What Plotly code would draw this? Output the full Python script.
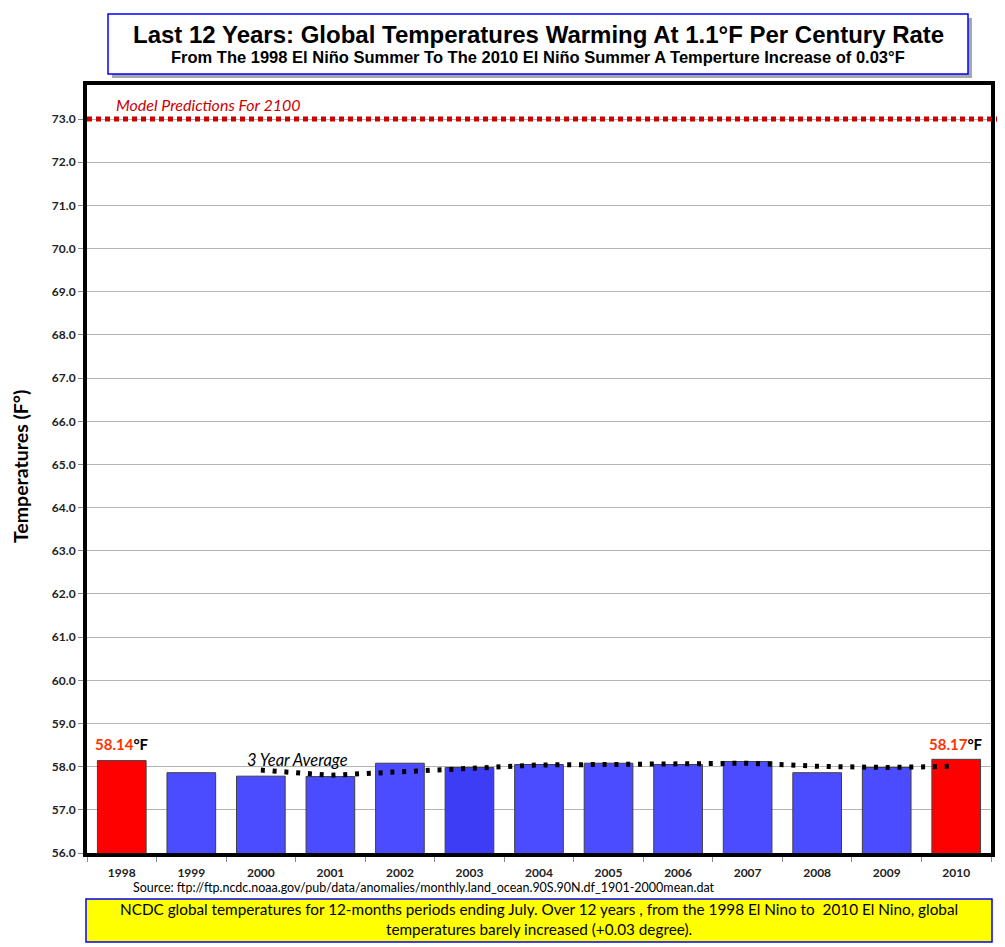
import plotly.graph_objects as go

# data
years = ["1998", "1999", "2000", "2001", "2002", "2003", "2004",
         "2005", "2006", "2007", "2008", "2009", "2010"]
temps = [58.14, 57.86, 57.78, 57.77, 58.08, 57.98, 58.05,
         58.08, 58.05, 58.12, 57.86, 57.98, 58.17]
avg_years = ["2000", "2001", "2002", "2003", "2004", "2005",
             "2006", "2007", "2008", "2009", "2010"]
avg_temps = [57.92, 57.80, 57.88, 57.95, 58.04, 58.05,
             58.06, 58.08, 58.01, 57.98, 58.01]
model_2100 = 73.0

bar_colors = ["#ff0000"] + ["#4b4bff"] * 4 + ["#3d3df5"] + ["#4b4bff"] * 6 + ["#ff0000"]

# page body adds an 8px margin, so the figure is shrunk/shifted by that
OFF = 8
W, H = 1005 - OFF, 947 - OFF
L, T = 87 - OFF, 85 - OFF
R = W - (991 - OFF)
B = H - (853 - OFF)


def px2x(p):
    # reference pixel -> paper x
    return (p - 87) / (991 - 87)


def px2y(p):
    # reference pixel -> paper y
    return (853 - p) / (853 - 85)


fig = go.Figure()

fig.add_trace(go.Bar(
    x=years, y=temps,
    marker=dict(color=bar_colors, line=dict(color="#404040", width=1)),
    showlegend=False, hoverinfo="x+y",
))

fig.add_trace(go.Scatter(
    x=avg_years, y=avg_temps, mode="lines",
    line=dict(color="black", width=5, dash="4px,7.8px"),
    showlegend=False,
))

shapes = [
    # model prediction line
    dict(type="line", xref="paper", yref="y", x0=0, x1=px2x(998),
         y0=model_2100, y1=model_2100,
         line=dict(color="#d00000", width=5, dash="5px,4px")),
    # title box shadow + box
    dict(type="rect", xref="paper", yref="paper",
         x0=px2x(112), x1=px2x(972), y0=px2y(78), y1=px2y(18),
         fillcolor="#a8a8a8", line=dict(width=0), layer="above"),
    dict(type="rect", xref="paper", yref="paper",
         x0=px2x(108), x1=px2x(968), y0=px2y(74), y1=px2y(14),
         fillcolor="white", line=dict(color="#0000ff", width=1.5), layer="above"),
    # bottom yellow note box
    dict(type="rect", xref="paper", yref="paper",
         x0=px2x(86), x1=px2x(992), y0=px2y(942), y1=px2y(899),
         fillcolor="#ffff00", line=dict(color="#0000ff", width=1.5), layer="above"),
]


def note(text, x, y, size, family="Lato", color="black", xanchor="center", **kw):
    return dict(text=text, x=x, y=y, xref="paper", yref="paper", showarrow=False,
                xanchor=xanchor, yanchor="middle",
                font=dict(family=family, size=size, color=color), **kw)


annotations = [
    note("<b>Last 12 Years: Global Temperatures Warming At 1.1°F Per Century Rate</b>",
         px2x(538), px2y(34), 24, family="Liberation Sans"),
    note("<b>From The 1998 El Niño Summer To The 2010 El Niño Summer A Temperture Increase of 0.03°F</b>",
         px2x(538), px2y(57), 16.5, family="Liberation Sans"),
    note("<i>Model Predictions For 2100</i>", px2x(114), px2y(105), 16,
         color="#cc0000", xanchor="left"),
    note("<i>3 Year Average</i>", px2x(245), px2y(760), 16.5, xanchor="left"),
    note("<b>Temperatures (F°)</b>", px2x(20), px2y(467), 19.5, textangle=-90),
    note("Source: ftp://ftp.ncdc.noaa.gov/pub/data/anomalies/monthly.land_ocean.90S.90N.df_1901-2000mean.dat",
         px2x(131), px2y(887), 12.5, xanchor="left"),
    note("NCDC global temperatures for 12-months periods ending July. Over 12 years , from the 1998 El Nino to  2010 El Nino, global<br>temperatures barely increased (+0.03 degree).",
         px2x(539), px2y(919), 15.3, align="center"),
    dict(text="<b><span style='color:#ff3300'>58.14</span>°F</b>",
         x=0, y=px2y(744), xref="x", yref="paper", showarrow=False,
         xanchor="center", yanchor="middle",
         font=dict(family="Lato", size=15, color="black")),
    dict(text="<b><span style='color:#ff3300'>58.17</span>°F</b>",
         x=12, y=px2y(744), xref="x", yref="paper", showarrow=False,
         xanchor="center", yanchor="middle",
         font=dict(family="Lato", size=15, color="black")),
]

fig.update_layout(
    width=W, height=H,
    margin=dict(l=L, r=R, t=T, b=B, autoexpand=False),
    paper_bgcolor="white", plot_bgcolor="white",
    bargap=0.3,
    shapes=shapes, annotations=annotations,
    xaxis=dict(
        type="category", tickson="boundaries", ticks="outside", ticklen=5,
        tickcolor="#888888", showline=True, linecolor="black", linewidth=4,
        mirror=True, showgrid=False, automargin=False, range=[-0.5, 12.5],
        ticklabelstandoff=6,
        tickfont=dict(family="Lato", size=12, color="#222222", weight="bold"),
    ),
    yaxis=dict(
        range=[56, 73.79], dtick=1, tickformat=".1f", ticks="outside", ticklen=5,
        tickcolor="#888888", showline=True, linecolor="black", linewidth=4,
        mirror=True, showgrid=True, gridcolor="#b4b4b4", gridwidth=1,
        zeroline=False, automargin=False,
        tickfont=dict(family="Lato", size=12, color="#222222", weight="bold"),
    ),
)

fig.write_html("out.html")
